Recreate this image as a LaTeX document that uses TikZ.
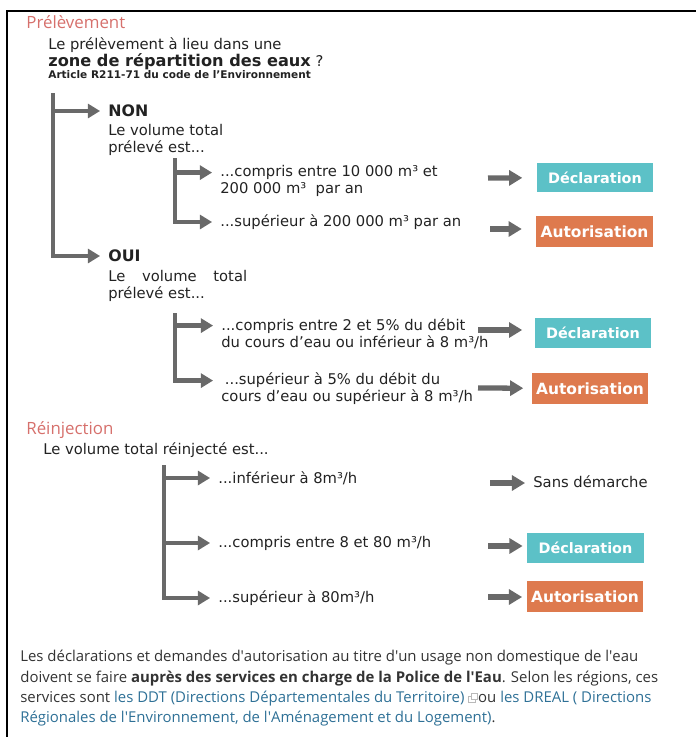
\documentclass[tikz,border=0pt]{standalone}
\usepackage{fontspec}
\setmainfont{DejaVu Sans}
\newfontfamily\webfont{Open Sans}
\usetikzlibrary{arrows.meta,positioning}
\definecolor{ArrowGray}{RGB}{105,105,105}
\definecolor{TitlePink}{RGB}{214,112,108}
\definecolor{DeclTeal}{RGB}{92,193,199}
\definecolor{AutoOrange}{RGB}{222,122,78}
\definecolor{LinkBlue}{RGB}{46,112,150}
\definecolor{WebGray}{RGB}{51,51,51}
\definecolor{InkDark}{RGB}{34,34,34}

% straight apostrophe for the web paragraph
\newcommand{\sq}{\textquotesingle}
% little external-link icon
\newcommand{\extlink}{\tikz[x=1pt,y=1pt,baseline=0pt]{%
  \draw[gray!55,line width=0.4pt] (0,0) rectangle (3.6,3.6);
  \draw[gray!55,line width=0.4pt,fill=white] (1.6,1.6) rectangle (5.2,5.2);}}

\begin{document}
\begin{tikzpicture}[x=0.02cm, y=-0.02cm,
    body/.style={font=\fontsize{8.4}{9.6}\selectfont, text=InkDark,
      inner sep=0pt, anchor=west, align=left},
    answer/.style={font=\fontsize{9}{10}\selectfont\bfseries, text=InkDark,
      inner sep=0pt, anchor=west},
    heading/.style={font=\webfont\fontsize{9.6}{11}\selectfont, text=TitlePink,
      inner sep=0pt, anchor=west},
    flow/.style={line width=2.6pt, ArrowGray,
      -{Triangle[length=7pt,width=8pt]}, shorten >=4.5pt},
    hop/.style={line width=3pt, ArrowGray, -{Triangle[length=7.5pt,width=8.5pt]}},
    declbox/.style={fill=DeclTeal, text=white, font=\fontsize{8.2}{9}\selectfont\bfseries,
      minimum width=2.34cm, minimum height=0.6cm, inner sep=2pt},
    autobox/.style={fill=AutoOrange, text=white, font=\fontsize{8.8}{9}\selectfont\bfseries,
      minimum width=2.34cm, minimum height=0.62cm, inner sep=1pt}
  ]
  \useasboundingbox (0,0) rectangle (696,737);
  % page frame, cut at the right and bottom
  \draw[line width=1.4pt] (7,737) -- (7,11) -- (696,11);

  % --- Prelevement ---
  \node[heading] (prel) at (26,22) {Prélèvement};
  \node[body] (q1) at (48,45) {Le prélèvement à lieu dans une};
  \node[body] (q2) at (48,62) {{\fontsize{9.2}{10}\selectfont\bfseries zone de répartition des eaux} ?};
  \node[body, font=\fontsize{6}{7}\selectfont\bfseries] (q3) at (48,75) {Article R211-71 du code de l’Environnement};

  \coordinate (b1top) at (53,93);
  \node[answer] (non) at (108,111) {NON};
  \node[body] (nonvol) at (108,139.5) {Le volume total\\prélevé est...};
  \node[answer] (oui) at (108,256) {OUI};
  \node[body] (ouivol) at (108,285.5) {\makebox[79pt][l]{Le\hfill volume\hfill total}\\prélevé est...};
  \draw[flow] (b1top) |- (oui);
  \draw[flow] (b1top |- non) -- (non);

  % NON branch
  \coordinate (b2top) at (175,158);
  \node[body] (c1) at (220,180.5) {...compris entre 10 000 m³ et\\200 000 m³ \ par an};
  \node[body] (c2) at (220,222) {...supérieur à 200 000 m³ par an};
  \coordinate (c1in) at ([yshift=4.5pt]c1.west);
  \draw[flow] (b2top) |- (c2);
  \draw[flow] (b2top |- c1in) -- (c1in);

  \node[declbox] (d1) at (595,177.5) {Déclaration};
  \node[autobox] (a1) at (594.5,231.5) {Autorisation};
  \coordinate (s1) at (488,178);
  \coordinate (s2) at (490,229);
  \draw[hop, shorten >=7.9pt] (s1) -- (d1);
  \draw[hop, shorten >=7.9pt] (s2) -- (s2 -| a1.west);

  % OUI branch
  \coordinate (b3top) at (175,313);
  \node[body] (c3) at (221,333.5) {...compris entre 2 et 5\% du débit\\du cours d’eau ou inférieur à 8 m³/h};
  \node[body] (c4) at (221,388.5) {\hspace{2pt}...supérieur à 5\% du débit du\\cours d’eau ou supérieur à 8 m³/h};
  \coordinate (c3in) at ([yshift=4.5pt]c3.west);
  \coordinate (c4in) at ([yshift=4.5pt]c4.west);
  \draw[flow] (b3top) |- (c4in);
  \draw[flow] (b3top |- c3in) -- (c3in);

  \node[declbox] (d2) at (593,333) {Déclaration};
  \node[autobox] (a2) at (590,388.5) {Autorisation};
  \coordinate (s3) at (478,330);
  \coordinate (s4) at (478,388);
  \draw[hop, shorten >=6.8pt] (s3) -- (s3 -| d2.west);
  \draw[hop, shorten >=4.5pt] (s4) -- (a2);

  % --- Reinjection ---
  \node[heading] (reinj) at (26,430) {Réinjection};
  \node[body] (rvol) at (43,450) {Le volume total réinjecté est...};
  \coordinate (b4top) at (164,465);
  \node[body] (r1) at (218,478) {...inférieur à 8m³/h};
  \node[body] (r2) at (218,543) {...compris entre 8 et 80 m³/h};
  \node[body] (r3) at (218,598) {...supérieur à 80m³/h};
  \draw[flow] (b4top) |- (r3);
  \draw[flow] (b4top |- r1) -- (r1);
  \draw[flow] (b4top |- r2) -- (r2);

  \node[body] (none) at (533,482) {Sans démarche};
  \node[declbox] (d3) at (585.5,548) {Déclaration};
  \node[autobox] (a3) at (585,596.5) {Autorisation};
  \coordinate (s5) at (490,483);
  \coordinate (s6) at (488,546);
  \coordinate (s7) at (488,597);
  \draw[hop, shorten >=4.5pt] (s5) -- (s5 -| none.west);
  \draw[hop, shorten >=2.3pt] (s6) -- (s6 -| d3.west);
  \draw[hop, shorten >=2.3pt] (s7) -- (s7 -| a3.west);

  % --- note below the frame content ---
  \node[anchor=north west, inner sep=0pt, align=left, text=WebGray,
        font=\webfont\fontsize{8.5}{11.6}\selectfont] (note) at (20,650) {%
    Les déclarations et demandes d\sq autorisation au titre d\sq un usage non domestique de l\sq eau\\
    doivent se faire \textbf{auprès des services en charge de la Police de l\sq Eau}. Selon les régions, ces\\
    services sont \textcolor{LinkBlue}{les DDT (Directions Départementales du Territoire)} \extlink{}ou \textcolor{LinkBlue}{les DREAL ( Directions}\\
    \textcolor{LinkBlue}{Régionales de l\sq Environnement, de l\sq Aménagement et du Logement)}.};
\end{tikzpicture}
\end{document}
